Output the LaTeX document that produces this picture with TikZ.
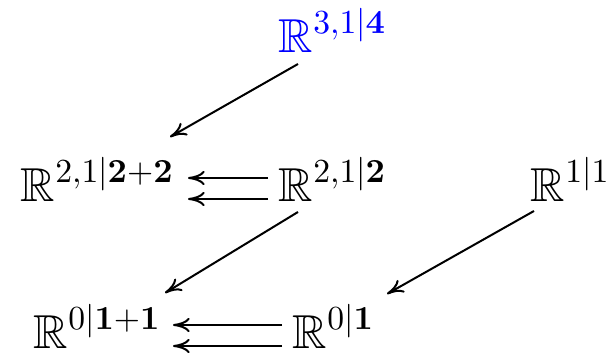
\documentclass[tikz,border=0pt]{standalone}
\usepackage{amssymb}
\usepackage{graphicx}
\usetikzlibrary{arrows.meta}
\newcommand{\supsc}[1]{\raisebox{0.4pt}{\scalebox{0.707}{$#1$}}}

\begin{document}
\begin{tikzpicture}[
        x=0.21pt, y=-0.21pt,
        space/.style={inner sep=0pt, anchor=base west},
        map/.style={-{To[length=3.5pt, width=3pt]}, line width=0.42pt}
      ]
        \useasboundingbox (0,0) rectangle (616,354);
        \node[space, text=blue] (top) at (278,53) {$\mathbb{R}^{\supsc{3{,}1{|}\mathbf{4}}}$};
        \node[space] (midleft) at (20,202) {$\mathbb{R}^{\supsc{2{,}1{|}\mathbf{2}{+}\mathbf{2}}}$};
        \node[space] (midcentre) at (278,202) {$\mathbb{R}^{\supsc{2{,}1{|}\mathbf{2}}}$};
        \node[space] (midright) at (530,202) {$\mathbb{R}^{\supsc{1{|}1}}$};
        \node[space] (lowleft) at (33,349) {$\mathbb{R}^{\supsc{0{|}\mathbf{1}{+}\mathbf{1}}}$};
        \node[space] (lowcentre) at (292,349) {$\mathbb{R}^{\supsc{0{|}\mathbf{1}}}$};
        \draw[map] ([shift={(20,11)}]top.base west) -- ([shift={(150,-65)}]midleft.base west);
        \draw[map] ([shift={(-10,-24)}]midcentre.base west) -- ([shift={(168,-24)}]midleft.base west);
        \draw[map] ([shift={(-10,-3)}]midcentre.base west) -- ([shift={(168,-3)}]midleft.base west);
        \draw[map] ([shift={(20,10)}]midcentre.base west) -- ([shift={(132,-56)}]lowleft.base west);
        \draw[map] ([shift={(4,9)}]midright.base west) -- ([shift={(95,-55)}]lowcentre.base west);
        \draw[map] ([shift={(-10,-24)}]lowcentre.base west) -- ([shift={(140,-24)}]lowleft.base west);
        \draw[map] ([shift={(-10,-3)}]lowcentre.base west) -- ([shift={(140,-3)}]lowleft.base west);
      \end{tikzpicture}
\end{document}
